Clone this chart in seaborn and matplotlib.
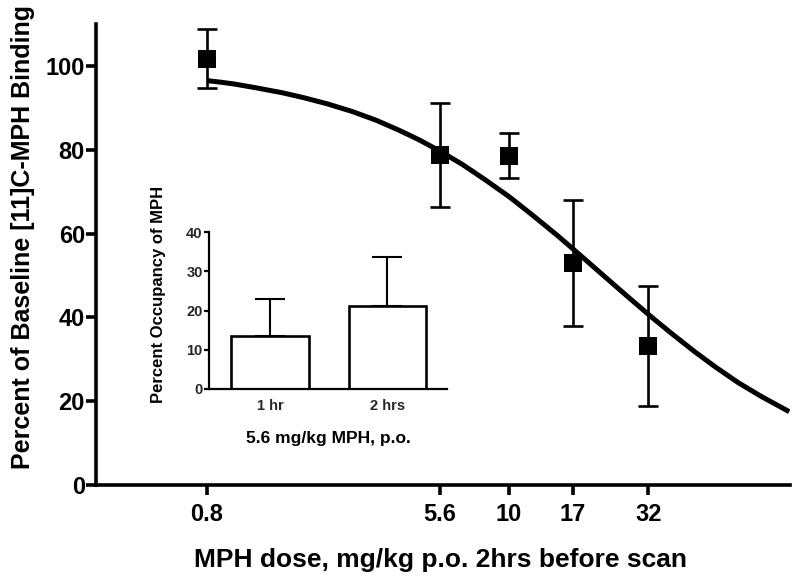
import matplotlib
matplotlib.use("Agg")
import matplotlib.pyplot as plt
import seaborn as sns
import numpy as np
import pandas as pd

# ---- data ----
dose = [0.8, 5.6, 10, 17, 32]
binding = [101.7, 78.8, 78.6, 52.9, 33.2]
binding_sem = [7.0, 12.4, 5.4, 15.0, 14.4]

curve_dose = [0.8, 0.9, 1.0, 1.2, 1.5, 1.8, 2.2, 2.7, 3.3, 4.0, 4.7, 5.6, 6.8, 8.2, 10,
              12, 15, 18, 22, 27, 33, 39, 47, 56, 68, 82, 104]
curve_binding = [96.5, 96.1, 95.7, 94.8, 93.6, 92.4, 90.9, 89.1, 87.0, 84.6, 82.4, 79.7,
                 76.4, 72.8, 68.8, 64.7, 59.5, 55.0, 50.0, 44.9, 40.0, 36.1, 31.9, 28.2,
                 24.4, 21.2, 17.5]

x_ticks = [0.8, 5.6, 10, 17, 32]
x_tick_labels = ["0.8", "5.6", "10", "17", "32"]

inset_groups = ["1 hr", "2 hrs"]
inset_occupancy = [13.5, 21.2]
inset_sem = [9.4, 12.4]

sns.set_theme(style="white")
plt.rcParams['font.family'] = ['Liberation Sans', 'DejaVu Sans']
plt.rcParams['font.weight'] = 'bold'

W, H = 800, 583
fig = plt.figure(figsize=(W / 100, H / 100), dpi=100)
fig.patch.set_facecolor("white")

# ---- main axes ----
ax = fig.add_axes([96 / W, (H - 485) / H, (790 - 96) / W, (485 - 24) / H])
ax.set_facecolor("white")

curve_df = pd.DataFrame({"dose": curve_dose, "binding": curve_binding})
sns.lineplot(data=curve_df, x="dose", y="binding", ax=ax, color="black", linewidth=3.6,
             solid_capstyle="butt", solid_joinstyle="round", zorder=2)

ax.errorbar(dose, binding, yerr=binding_sem, fmt="none", ecolor="black",
            elinewidth=1.9, capsize=7, capthick=1.9, zorder=3)
pts_df = pd.DataFrame({"dose": dose, "binding": binding})
sns.scatterplot(data=pts_df, x="dose", y="binding", ax=ax, marker="s", s=150,
                color="black", edgecolor="black", linewidth=0, zorder=4)

ax.set_xscale("log")
ax.set_xlim(10 ** -0.5, 104.7)
ax.set_ylim(0, 110)
ax.set_xticks(x_ticks)
ax.set_xticklabels(x_tick_labels)
ax.xaxis.set_minor_locator(matplotlib.ticker.NullLocator())
ax.set_yticks([0, 20, 40, 60, 80, 100])
ax.set_xlabel("")
ax.set_ylabel("")
for s in ["top", "right"]:
    ax.spines[s].set_visible(False)
for s in ["left", "bottom"]:
    ax.spines[s].set_linewidth(2.6)
    ax.spines[s].set_color("black")
ax.tick_params(axis="both", which="major", direction="out", length=7, width=2.6,
               color="black", labelsize=17, labelcolor="black")
ax.tick_params(axis="y", pad=1, left=True)
ax.tick_params(axis="x", pad=6, bottom=True)
for lab in ax.get_xticklabels() + ax.get_yticklabels():
    lab.set_fontweight("bold")

fig.text(23 / W, 1 - 237 / H, "Percent of Baseline [11]C-MPH Binding", rotation=90,
         ha="center", va="center", fontsize=18, fontweight="bold", color="black")
fig.text(440 / W, 1 - 560 / H, "MPH dose, mg/kg p.o. 2hrs before scan",
         ha="center", va="center", fontsize=19, fontweight="bold", color="black")

# ---- inset ----
axi = fig.add_axes([209 / W, (H - 389) / H, (447 - 209) / W, (389 - 232) / H])
axi.set_facecolor("white")
inset_df = pd.DataFrame({"group": inset_groups, "occ": inset_occupancy})
sns.barplot(data=inset_df, x="group", y="occ", ax=axi, color="white", width=0.66,
            edgecolor="black", linewidth=1.9, errorbar=None, zorder=2)
axi.errorbar([0, 1], inset_occupancy, yerr=[[0, 0], inset_sem], fmt="none",
             ecolor="black", elinewidth=1.5, capsize=11, capthick=1.5, zorder=1)
axi.set_xlim(-0.52, 1.51)
axi.set_ylim(0, 40)
axi.set_yticks([0, 10, 20, 30, 40])
axi.set_xlabel("")
axi.set_ylabel("")
for s in ["top", "right"]:
    axi.spines[s].set_visible(False)
for s in ["left", "bottom"]:
    axi.spines[s].set_linewidth(1.6)
    axi.spines[s].set_color("black")
axi.tick_params(axis="y", direction="out", length=3.5, width=1.6, color="black",
                labelsize=10.5, pad=1, left=True)
axi.tick_params(axis="x", length=0, labelsize=10.5, pad=7)
for lab in axi.get_xticklabels() + axi.get_yticklabels():
    lab.set_fontweight("bold")

fig.text(158 / W, 1 - 294 / H, "Percent Occupancy of MPH", rotation=90,
         ha="center", va="center", fontsize=12, fontweight="bold", color="black")
fig.text(328 / W, 1 - 438 / H, "5.6 mg/kg MPH, p.o.",
         ha="center", va="center", fontsize=12.5, fontweight="bold", color="black")

fig.savefig("out.png", dpi=100, facecolor="white")
